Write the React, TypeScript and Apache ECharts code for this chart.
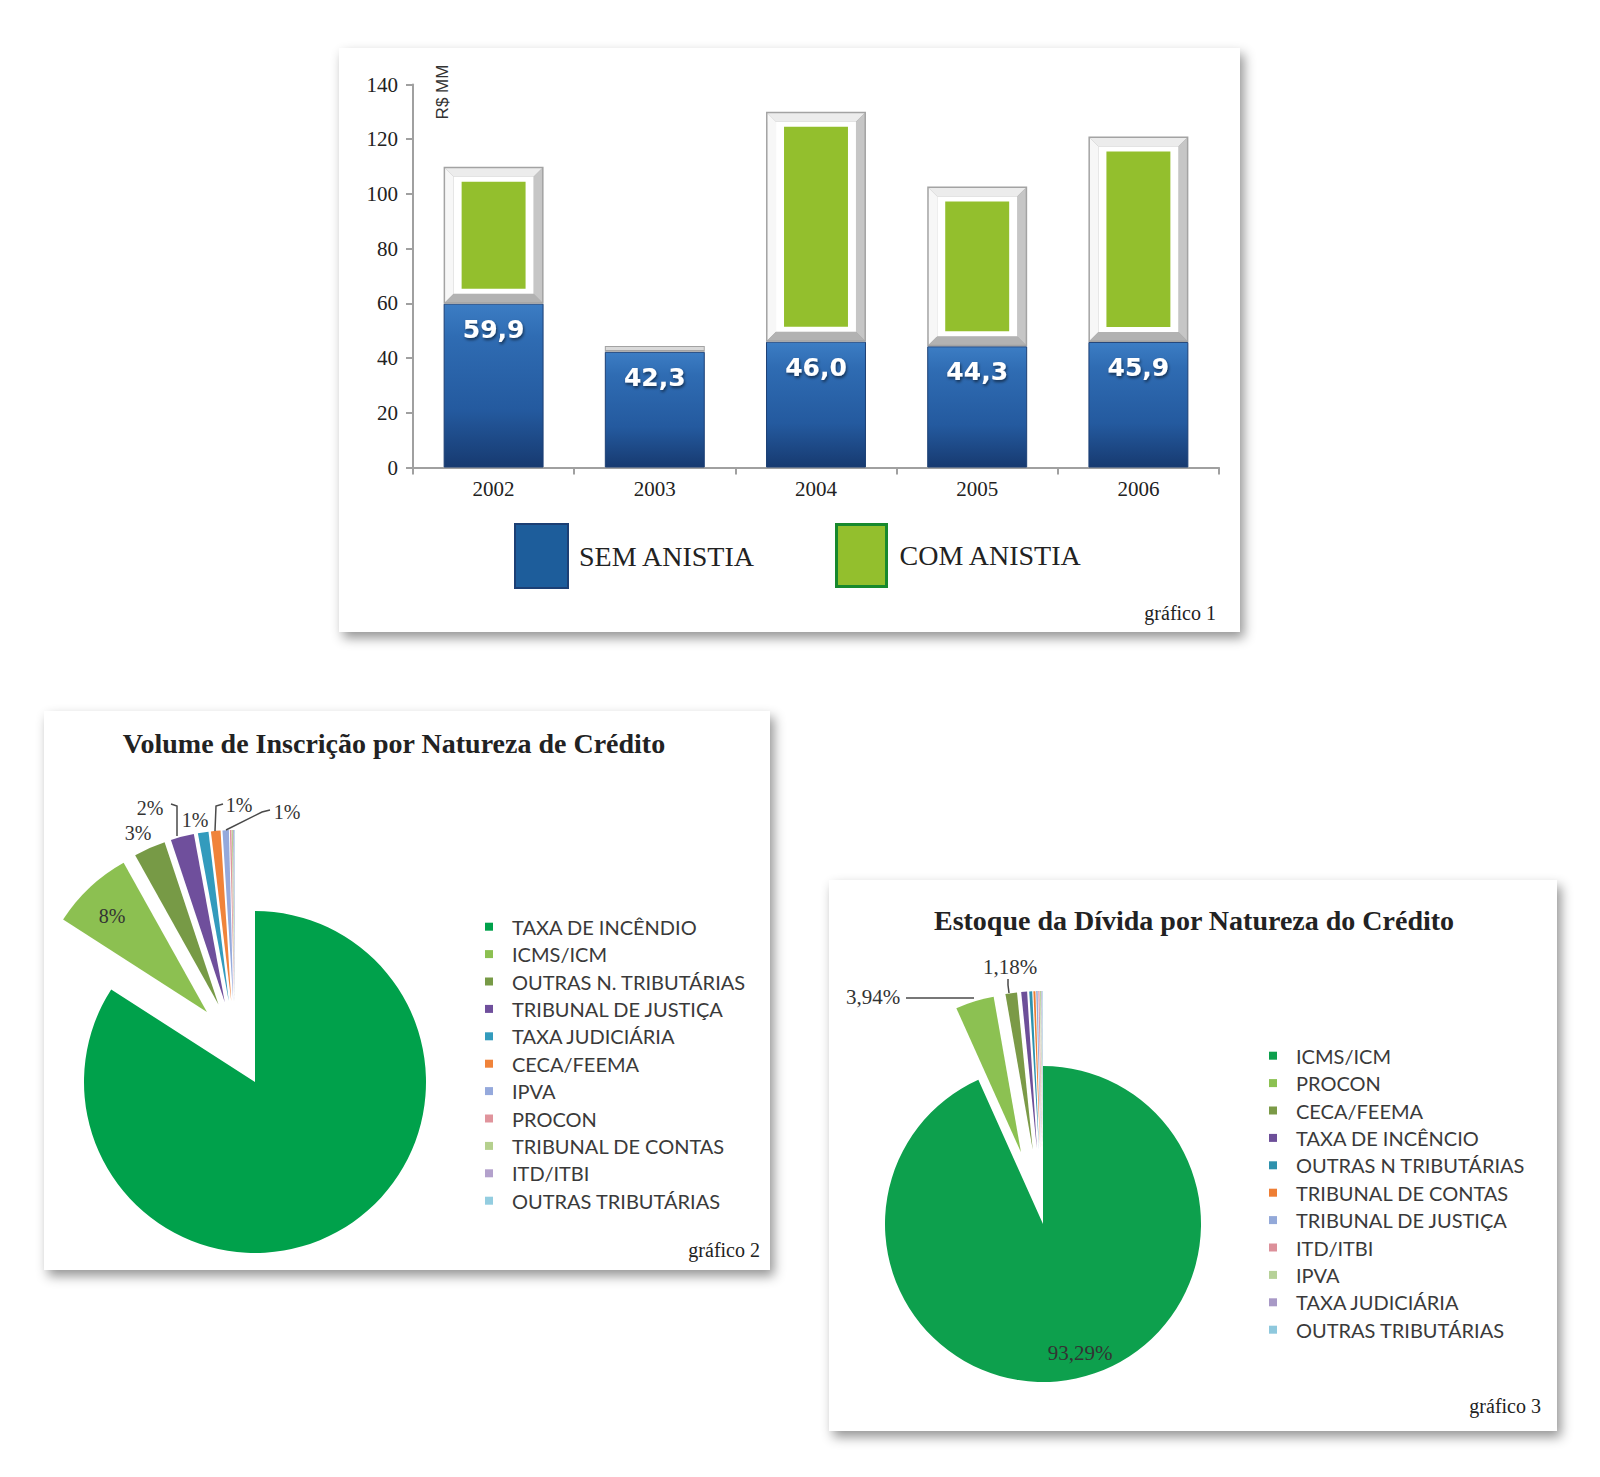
import React, { useEffect, useRef } from 'react';
import * as echarts from 'echarts';

// ---------- data: gráfico 1 ----------
const YEARS = ['2002', '2003', '2004', '2005', '2006'];
const SEM_ANISTIA = [59.9, 42.3, 46.0, 44.3, 45.9];
const COM_ANISTIA = [109.9, 44.4, 130.0, 102.7, 121.0];
const Y_TICKS = [0, 20, 40, 60, 80, 100, 120, 140];

// ---------- data: gráfico 2 ----------
const VOL_NAMES = [
  'TAXA DE INCÊNDIO', 'ICMS/ICM', 'OUTRAS N. TRIBUTÁRIAS', 'TRIBUNAL DE JUSTIÇA', 'TAXA JUDICIÁRIA',
  'CECA/FEEMA', 'IPVA', 'PROCON', 'TRIBUNAL DE CONTAS', 'ITD/ITBI', 'OUTRAS TRIBUTÁRIAS',
];
const VOL_VALUES = [84.1, 7.8, 3.0, 2.2, 1.0, 0.9, 0.6, 0.15, 0.1, 0.1, 0.05];
const VOL_COLORS = [
  '#00a14b', '#8cc051', '#779a46', '#6f4f9c', '#339bbd',
  '#f0833a', '#95a9dc', '#e0949c', '#b5d08e', '#b3a1cc', '#93cde0',
];

// ---------- data: gráfico 3 ----------
const EST_NAMES = [
  'ICMS/ICM', 'PROCON', 'CECA/FEEMA', 'TAXA DE INCÊNCIO', 'OUTRAS N TRIBUTÁRIAS', 'TRIBUNAL DE CONTAS',
  'TRIBUNAL DE JUSTIÇA', 'ITD/ITBI', 'IPVA', 'TAXA JUDICIÁRIA', 'OUTRAS TRIBUTÁRIAS',
];
const EST_VALUES = [93.29, 3.94, 1.18, 0.6, 0.3, 0.2, 0.15, 0.12, 0.1, 0.07, 0.05];
const EST_COLORS = [
  '#0da04d', '#8cc152', '#7b9a47', '#6d4f99', '#2e91ad', '#ee7e34',
  '#93a9d9', '#dc909a', '#b6d198', '#a899c6', '#8ec8dd',
];

// ---------- label placement (layout only) ----------
const VOL_LABEL_AT: Record<number, any> = {
  1: { x: 112, y: 916, inside: true },
  2: { x: 138, y: 833 },
  3: { x: 150, y: 808, line: [[171, 804], [177, 806], [177, 836]] },
  4: { x: 195, y: 820 },
  5: { x: 239, y: 805, line: [[223, 804], [216, 806], [215, 831]] },
  6: { x: 287, y: 812, line: [[270, 810], [262, 812], [226, 830]] },
};
const EST_LABEL_AT: Record<number, any> = {
  0: { x: 1080, y: 1353, inside: true },
  1: { x: 873, y: 997, line: [[906, 998], [940, 998], [974, 998]] },
  2: { x: 1010, y: 967, line: [[1008, 979], [1008, 985], [1009, 993]] },
};

const SERIF = 'Liberation Serif';
const HIDDEN = { color: 'rgba(0,0,0,0)', borderWidth: 0 };

function frameItem(params: any, api: any) {
  const idx = api.value(0);
  const lo = api.value(1);
  const hi = api.value(2);
  const pLo = api.coord([idx, lo]);
  const pHi = api.coord([idx, hi]);
  const w = api.size([1, 0])[0] * 0.62;
  const x0 = pLo[0] - w / 2;
  const x1 = x0 + w;
  const yT = pHi[1];
  const yB = pLo[1];
  const h = yB - yT;
  const children: any[] = [
    { type: 'rect', shape: { x: x0, y: yT, width: w, height: h }, style: { fill: '#a3a3a3' } },
  ];
  if (h > 36) {
    const b = 1.5;
    const bv = 10;
    children.push(
      { type: 'polygon', shape: { points: [[x0 + b, yT + b], [x1 - b, yT + b], [x1 - bv, yT + bv], [x0 + bv, yT + bv]] }, style: { fill: '#ececec' } },
      { type: 'polygon', shape: { points: [[x0 + b, yT + b], [x0 + bv, yT + bv], [x0 + bv, yB - bv], [x0 + b, yB - b]] }, style: { fill: '#f7f7f7' } },
      { type: 'polygon', shape: { points: [[x1 - b, yT + b], [x1 - b, yB - b], [x1 - bv, yB - bv], [x1 - bv, yT + bv]] }, style: { fill: '#c6c6c6' } },
      { type: 'polygon', shape: { points: [[x0 + b, yB - b], [x0 + bv, yB - bv], [x1 - bv, yB - bv], [x1 - b, yB - b]] }, style: { fill: '#b2b2b2' } },
      { type: 'rect', shape: { x: x0 + bv, y: yT + bv, width: w - 2 * bv, height: h - 2 * bv }, style: { fill: '#ffffff' } },
      { type: 'rect', shape: { x: x0 + 18, y: yT + 15, width: w - 36, height: h - 30 }, style: { fill: '#93bf2d' } },
    );
  } else {
    children.push({ type: 'rect', shape: { x: x0 + 1, y: yT + 1, width: w - 2, height: Math.max(h / 2, 1) }, style: { fill: '#dadada' } });
  }
  return { type: 'group', children };
}

function pieLegend(names: string[], colors: string[], left: number, top: number) {
  return {
    orient: 'vertical',
    left,
    top,
    padding: 0,
    itemWidth: 8,
    itemHeight: 8,
    itemGap: 0,
    icon: 'rect',
    selectedMode: false,
    data: names.map((n, i) => ({ name: n, itemStyle: { color: colors[i] } })),
    textStyle: { fontFamily: 'Lato', fontSize: 20, color: '#3a3a3a', lineHeight: 27.4, padding: [0, 0, 0, 14] },
  };
}

function layoutFrom(table: Record<number, any>) {
  return (p: any) => {
    const at = table[p.dataIndex];
    if (!at) return {};
    const out: any = { x: at.x, y: at.y, align: 'center', verticalAlign: 'middle' };
    if (at.line) out.labelLinePoints = at.line;
    return out;
  };
}

const pieBase = {
  type: 'pie',
  startAngle: 90,
  clockwise: true,
  avoidLabelOverlap: false,
  emphasis: { disabled: true },
  select: { itemStyle: { borderWidth: 0 } },
};

// visible slices (no labels)
function slices(values: number[], names: string[], colors: string[], show: (i: number) => boolean, selected: (i: number) => boolean) {
  return values.map((v, i) => ({
    name: names[i],
    value: v,
    selected: selected(i),
    itemStyle: show(i) ? { color: colors[i] } : HIDDEN,
    label: { show: false },
    labelLine: { show: false },
  }));
}

// transparent label-only series, so percentages come from the same values
function labelSeries(name: string, center: number[], radius: number, values: number[], names: string[],
  table: Record<number, any>, formatter: (p: any) => string, fontSize: number) {
  return {
    ...pieBase,
    name,
    center,
    radius,
    silent: true,
    z: 6,
    label: { fontFamily: SERIF, fontSize, color: '#333', formatter },
    labelLine: { length: 8, length2: 8, lineStyle: { color: '#4a4a4a', width: 1.5 } },
    labelLayout: layoutFrom(table),
    data: values.map((v, i) => {
      const at = table[i];
      return {
        name: names[i],
        value: v,
        itemStyle: HIDDEN,
        label: at ? { show: true, position: at.inside ? 'inside' : 'outside' } : { show: false },
        labelLine: { show: !!(at && at.line) },
      };
    }),
  };
}

const panel = (x: number, y: number, w: number, h: number) => ({
  type: 'rect',
  z: -100,
  silent: true,
  shape: { x, y, width: w, height: h },
  style: { fill: '#ffffff', shadowBlur: 12, shadowColor: 'rgba(0,0,0,0.42)', shadowOffsetX: 4, shadowOffsetY: 6 },
});
const txt = (x: number, y: number, text: string, extra: any = {}, rotation = 0) => ({
  type: 'text',
  z: 100,
  x,
  y,
  rotation,
  silent: true,
  style: { text, fontFamily: SERIF, fontSize: 20, fill: '#222', align: 'center', verticalAlign: 'middle', ...extra },
});

const option: any = {
  animation: false,
  backgroundColor: '#ffffff',
  graphic: {
    elements: [
      panel(339, 48, 901, 584),
      panel(44, 711, 726, 559),
      panel(829, 880, 728, 551),
      txt(442, 92, 'R$ MM', { fontFamily: 'Liberation Sans', fontSize: 17, fill: '#333' }, Math.PI / 2),
      txt(1216, 613, 'gráfico 1', { align: 'right' }),
      txt(760, 1250, 'gráfico 2', { align: 'right' }),
      txt(1541, 1406, 'gráfico 3', { align: 'right' }),
      txt(394, 743, 'Volume de Inscrição por Natureza de Crédito', { fontWeight: 'bold', fontSize: 28 }),
      txt(1194, 920, 'Estoque da Dívida por Natureza do Crédito', { fontWeight: 'bold', fontSize: 28 }),
    ],
  },
  legend: [
    {
      left: 514, top: 523, padding: 0, itemWidth: 53, itemHeight: 64, selectedMode: false, icon: 'rect',
      data: [{ name: 'SEM ANISTIA', itemStyle: { color: '#1d5d9b' } }],
      textStyle: { fontFamily: SERIF, fontSize: 28, color: '#222', padding: [0, 0, 0, 6] },
    },
    {
      left: 835, top: 523, padding: 0, itemWidth: 50, itemHeight: 62, selectedMode: false, icon: 'rect',
      data: [{ name: 'COM ANISTIA', itemStyle: { color: '#93bf2d', borderColor: '#17892d', borderWidth: 3 } }],
      textStyle: { fontFamily: SERIF, fontSize: 28, color: '#222', padding: [0, 0, 0, 8] },
    },
    pieLegend(VOL_NAMES, VOL_COLORS, 485, 913),
    pieLegend(EST_NAMES, EST_COLORS, 1269, 1042),
  ],
  grid: { left: 413, right: 381, top: 84.5, bottom: 1009.5, outerBoundsMode: 'none', containLabel: false },
  xAxis: {
    type: 'category',
    data: YEARS,
    axisLine: { show: true, lineStyle: { color: '#a0a0a0', width: 2 } },
    axisTick: { show: true, length: 7, lineStyle: { color: '#a0a0a0', width: 2 } },
    axisLabel: { fontFamily: SERIF, fontSize: 21, color: '#222', margin: 11 },
    splitLine: { show: false },
  },
  yAxis: {
    type: 'value',
    min: Y_TICKS[0],
    max: Y_TICKS[Y_TICKS.length - 1],
    interval: Y_TICKS[1] - Y_TICKS[0],
    axisLine: { show: true, lineStyle: { color: '#a0a0a0', width: 2 } },
    axisTick: { show: true, length: 7, lineStyle: { color: '#a0a0a0', width: 2 } },
    axisLabel: { fontFamily: SERIF, fontSize: 21, color: '#222', margin: 15 },
    splitLine: { show: false },
  },
  series: [
    {
      name: 'SEM ANISTIA',
      type: 'bar',
      data: SEM_ANISTIA,
      barWidth: '62%',
      itemStyle: {
        color: {
          type: 'linear', x: 0, y: 0, x2: 0, y2: 1,
          colorStops: [
            { offset: 0, color: '#3c7dc4' },
            { offset: 0.2, color: '#2f6cb3' },
            { offset: 0.65, color: '#245a9f' },
            { offset: 1, color: '#173a70' },
          ],
        },
        borderColor: '#1c3f74',
        borderWidth: 1,
      },
      label: {
        show: true,
        position: 'insideTop',
        distance: 13,
        formatter: (p: any) => p.value.toFixed(1).replace('.', ','),
        fontFamily: 'DejaVu Sans',
        fontWeight: 'bold',
        fontSize: 25,
        color: '#ffffff',
        textShadowColor: 'rgba(0,0,0,0.55)',
        textShadowBlur: 3,
        textShadowOffsetX: 1,
        textShadowOffsetY: 2,
      },
      emphasis: { disabled: true },
      z: 2,
    },
    {
      name: 'COM ANISTIA',
      type: 'custom',
      renderItem: frameItem,
      data: COM_ANISTIA.map((v, i) => [i, SEM_ANISTIA[i], v]),
      encode: { x: 0, y: [1, 2] },
      itemStyle: { color: '#93bf2d' },
      z: 3,
    },
    // gráfico 2: main slice in place, the other slices pulled out together
    {
      ...pieBase,
      name: 'volume-main',
      center: [255, 1082],
      radius: 171,
      label: { show: false },
      labelLine: { show: false },
      data: slices(VOL_VALUES, VOL_NAMES, VOL_COLORS, (i) => i === 0, () => false),
    },
    {
      ...pieBase,
      name: 'volume-detail',
      center: [235, 1042],
      radius: 171,
      selectedMode: 'multiple',
      selectedOffset: 41,
      label: { show: false },
      labelLine: { show: false },
      data: slices(VOL_VALUES, VOL_NAMES, VOL_COLORS, (i) => i > 0, (i) => i > 0),
    },
    labelSeries('volume-labels', [255, 1082], 171, VOL_VALUES, VOL_NAMES, VOL_LABEL_AT,
      (p: any) => Math.round(p.percent) + '%', 20),
    // gráfico 3
    {
      ...pieBase,
      name: 'estoque',
      center: [1043, 1224],
      radius: 158,
      selectedMode: 'multiple',
      selectedOffset: 75,
      label: { show: false },
      labelLine: { show: false },
      data: slices(EST_VALUES, EST_NAMES, EST_COLORS, () => true, (i) => i > 0),
    },
    labelSeries('estoque-labels', [1043, 1224], 158, EST_VALUES, EST_NAMES, EST_LABEL_AT,
      (p: any) => p.percent.toFixed(2).replace('.', ',') + '%', 21),
  ],
};

export default function App() {
  const ref = useRef<HTMLDivElement>(null);
  useEffect(() => {
    document.body.style.margin = '0';
    const chart = echarts.init(ref.current as HTMLDivElement, undefined, { renderer: 'svg' });
    chart.setOption(option);
    return () => chart.dispose();
  }, []);
  return <div ref={ref} style={{ width: 1600, height: 1477, background: '#ffffff' }} />;
}
